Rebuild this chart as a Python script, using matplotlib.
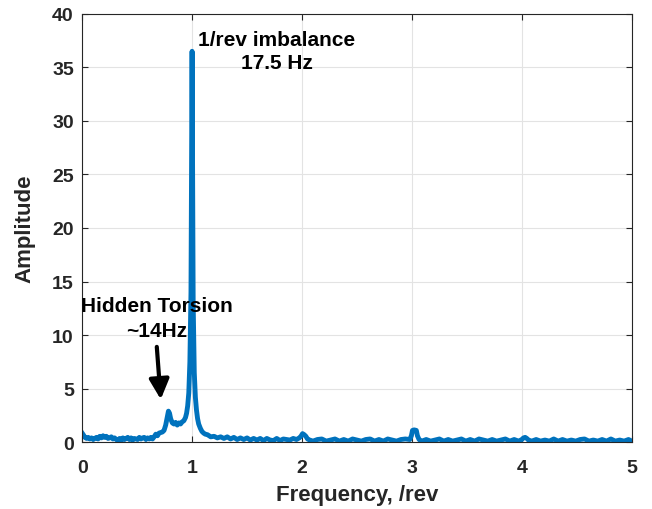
import matplotlib
matplotlib.use("Agg")
import matplotlib.pyplot as plt

# Spectrum (frequency in /rev, amplitude)
freq_low = [0.000, 0.010, 0.025, 0.040, 0.055, 0.070, 0.085, 0.100, 0.115, 0.130,
            0.145, 0.160, 0.175, 0.190, 0.205, 0.220, 0.235, 0.250, 0.265, 0.280,
            0.295, 0.310, 0.325, 0.340, 0.355, 0.370, 0.385, 0.400, 0.415, 0.430,
            0.445, 0.460, 0.475, 0.490, 0.505, 0.520, 0.535, 0.550, 0.565, 0.580,
            0.595, 0.610, 0.625, 0.640, 0.655, 0.670, 0.685, 0.700]
amp_low = [0.85, 0.70, 0.45, 0.35, 0.45, 0.30, 0.40, 0.25, 0.35, 0.45,
           0.30, 0.55, 0.40, 0.60, 0.45, 0.55, 0.35, 0.40, 0.50, 0.30,
           0.40, 0.25, 0.15, 0.35, 0.20, 0.40, 0.25, 0.35, 0.45, 0.25,
           0.40, 0.20, 0.35, 0.30, 0.25, 0.45, 0.30, 0.40, 0.45, 0.25,
           0.40, 0.30, 0.45, 0.30, 0.50, 0.75, 0.60, 0.85]

freq_peak = [0.715, 0.730, 0.745, 0.760, 0.775, 0.785, 0.795, 0.805, 0.820, 0.835,
             0.850, 0.865, 0.880, 0.895, 0.910, 0.925, 0.940, 0.950, 0.960, 0.970,
             0.980, 0.990, 1.000, 1.005, 1.010, 1.020, 1.030, 1.040, 1.050, 1.060,
             1.075, 1.090, 1.105, 1.120]
amp_peak = [0.90, 0.95, 1.10, 1.60, 2.40, 2.90, 2.70, 2.20, 1.80, 1.70,
            1.85, 1.60, 1.80, 1.70, 1.90, 2.00, 2.30, 2.70, 3.40, 4.60,
            7.50, 14.0, 36.5, 24.0, 13.0, 6.50, 4.20, 3.00, 2.20, 1.70,
            1.30, 1.00, 0.85, 0.75]

freq_mid = [1.140, 1.170, 1.200, 1.230, 1.260, 1.290, 1.320, 1.350, 1.380, 1.410,
            1.440, 1.470, 1.500, 1.530, 1.560, 1.590, 1.620, 1.650, 1.680, 1.710,
            1.740, 1.770, 1.800, 1.830, 1.860, 1.890, 1.920, 1.950, 1.975, 1.990,
            2.005, 2.020, 2.035, 2.050, 2.070]
amp_mid = [0.70, 0.50, 0.55, 0.40, 0.50, 0.35, 0.50, 0.30, 0.45, 0.25,
           0.40, 0.25, 0.40, 0.20, 0.35, 0.20, 0.35, 0.15, 0.35, 0.20,
           0.15, 0.35, 0.15, 0.30, 0.25, 0.20, 0.35, 0.25, 0.40, 0.55,
           0.80, 0.70, 0.55, 0.30, 0.20]

freq_high = [2.10, 2.14, 2.18, 2.22, 2.26, 2.30, 2.34, 2.38, 2.42, 2.46,
             2.50, 2.54, 2.58, 2.62, 2.66, 2.70, 2.74, 2.78, 2.82, 2.86,
             2.90, 2.94, 2.98, 2.995, 3.005, 3.02, 3.04, 3.05, 3.065, 3.09,
             3.13, 3.17, 3.21, 3.25, 3.29, 3.33, 3.37, 3.41, 3.45, 3.49,
             3.53, 3.57, 3.61, 3.65, 3.69, 3.73, 3.77, 3.81, 3.85, 3.89,
             3.93, 3.97, 4.00, 4.015, 4.03, 4.045, 4.06, 4.09, 4.13, 4.17,
             4.21, 4.25, 4.29, 4.33, 4.37, 4.41, 4.45, 4.49, 4.53, 4.57,
             4.61, 4.65, 4.69, 4.73, 4.77, 4.81, 4.85, 4.89, 4.93, 4.97, 5.00]
amp_high = [0.10, 0.25, 0.30, 0.10, 0.20, 0.30, 0.10, 0.25, 0.10, 0.30,
            0.20, 0.10, 0.25, 0.30, 0.10, 0.25, 0.10, 0.30, 0.20, 0.10,
            0.25, 0.30, 0.25, 0.60, 1.10, 1.15, 1.10, 0.60, 0.25, 0.10,
            0.25, 0.10, 0.20, 0.30, 0.10, 0.25, 0.10, 0.20, 0.30, 0.10,
            0.25, 0.10, 0.30, 0.20, 0.10, 0.25, 0.10, 0.20, 0.30, 0.10,
            0.25, 0.10, 0.25, 0.40, 0.45, 0.35, 0.20, 0.10, 0.25, 0.10,
            0.20, 0.10, 0.30, 0.10, 0.25, 0.10, 0.20, 0.10, 0.25, 0.30,
            0.10, 0.20, 0.10, 0.25, 0.10, 0.30, 0.10, 0.20, 0.10, 0.25, 0.10]

freq = freq_low + freq_peak + freq_mid + freq_high
amp = amp_low + amp_peak + amp_mid + amp_high

x_ticks = [0, 1, 2, 3, 4, 5]
y_ticks = [0, 5, 10, 15, 20, 25, 30, 35, 40]

plt.rcParams["font.family"] = ["Liberation Sans", "DejaVu Sans"]
plt.rcParams["font.weight"] = "bold"

fig = plt.figure(figsize=(6.52, 5.10), dpi=100)
ax = fig.add_axes([0.126, 0.131, 0.843, 0.840])

ax.plot(freq, amp, color="#0072BD", linewidth=3.5, solid_joinstyle="round")

ax.set_xlim(0, 5)
ax.set_ylim(0, 40)
ax.set_xticks(x_ticks)
ax.set_yticks(y_ticks)
ax.grid(True, color="#e3e3e3", linewidth=0.8)
ax.set_axisbelow(True)
ax.tick_params(direction="in", length=4, width=0.8, colors="#262626",
               labelsize=14, labelcolor="#262626", top=True, right=True,
               labeltop=False, labelright=False)
ax.tick_params(axis="x", pad=12)
ax.tick_params(axis="y", pad=6)
for s in ax.spines.values():
    s.set_color("#262626")
    s.set_linewidth(0.8)

ax.set_xlabel("Frequency, /rev", fontsize=16, fontweight="bold", color="#262626",
              labelpad=6)
ax.set_ylabel("Amplitude", fontsize=16, fontweight="bold", color="#262626",
              labelpad=12)

ax.text(1.773, 36.5, "1/rev imbalance\n17.5 Hz", ha="center", va="center",
        fontsize=15, fontweight="bold", linespacing=1.25)
ax.text(0.68, 11.6, "Hidden Torsion\n~14Hz", ha="center", va="center",
        fontsize=15, fontweight="bold", linespacing=1.35)
ax.annotate("", xy=(0.715, 4.0), xytext=(0.679, 8.9),
            arrowprops=dict(arrowstyle="-|>,head_length=0.6,head_width=0.3",
                            mutation_scale=20, color="black", linewidth=3,
                            shrinkA=0, shrinkB=0))

fig.savefig("out.png", dpi=100)
